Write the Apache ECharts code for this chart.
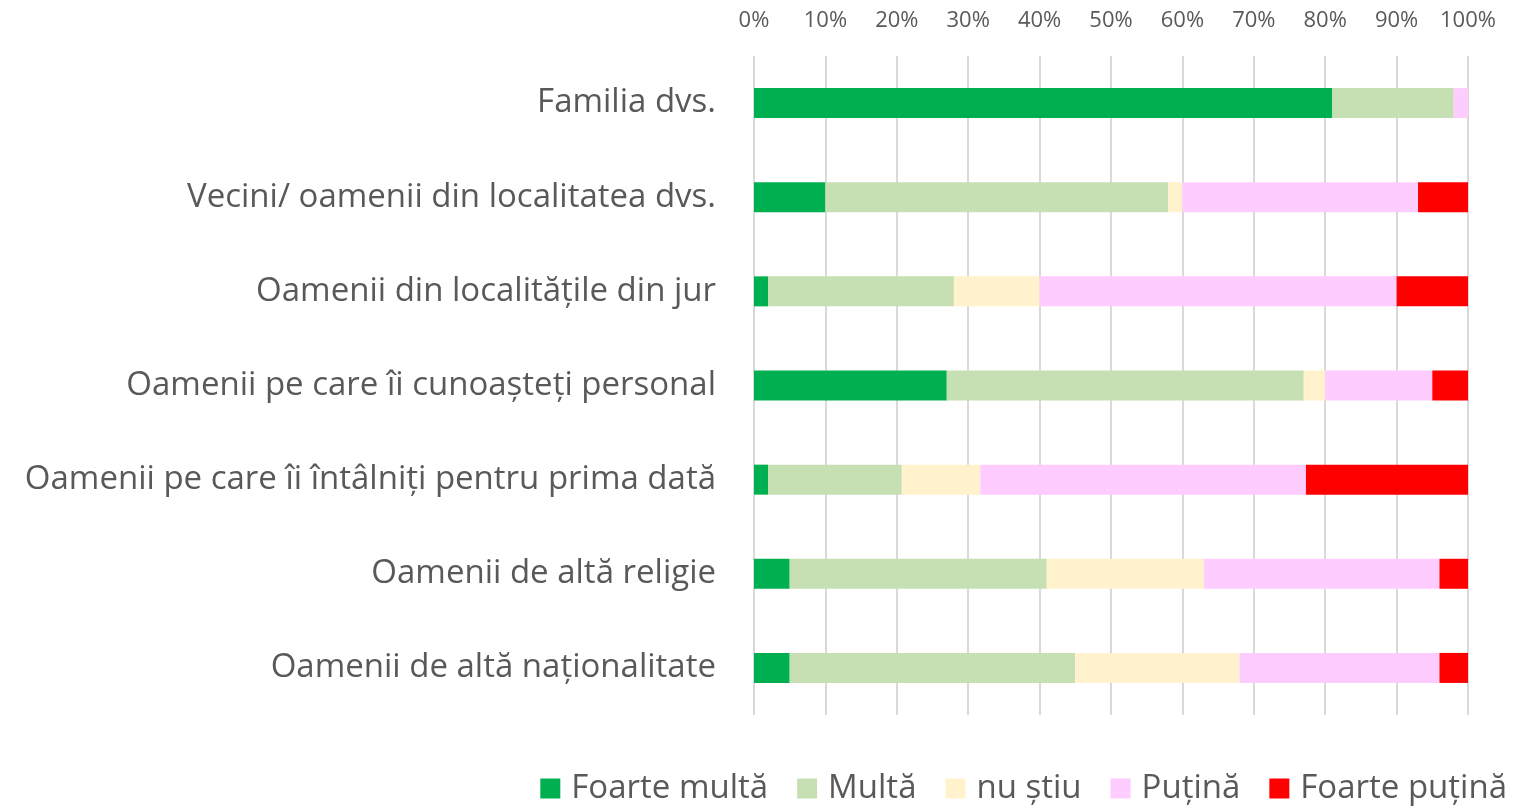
<!DOCTYPE html>
<html>
<head>
<meta charset="utf-8">
<script src="https://cdn.jsdelivr.net/npm/echarts@6/dist/echarts.min.js"></script>
<style>
  html, body { margin: 0; padding: 0; background: #fff; }
  #chart { width: 1514px; height: 808px; }
</style>
</head>
<body>
<div id="chart"></div>
<script>
// categorii (de sus in jos)
const categories = [
  'Familia dvs.',
  'Vecini/ oamenii din localitatea dvs.',
  'Oamenii din localitățile din jur',
  'Oamenii pe care îi cunoașteți personal',
  'Oamenii pe care îi întâlniți pentru prima dată',
  'Oamenii de altă religie',
  'Oamenii de altă naționalitate'
]
const seriesNames = ['Foarte multă', 'Multă', 'nu știu', 'Puțină', 'Foarte puțină']
const seriesColors = ['#00B050', '#C6E0B4', '#FFF2CC', '#FFCCFF', '#FF0000']

// procente
const foarteMulta  = [81, 10, 2, 27, 2, 5, 5]
const multa        = [17, 48, 26, 50, 18.7, 36, 40]
const nuStiu       = [0, 2, 12, 3, 11, 22, 23]
const putina       = [2, 33, 50, 15, 45.6, 33, 28]
const foartePutina = [0, 7, 10, 5, 22.7, 4, 4]
const seriesData = [foarteMulta, multa, nuStiu, putina, foartePutina]

const textColor = '#595959'
const fontFamily = '"Open Sans", sans-serif'

const chart = echarts.init(document.getElementById('chart'))

const option = {
  animation: false,
  textStyle: { fontFamily: fontFamily },
  grid: {
    left: 754,
    right: 46,
    top: 56,
    bottom: 93
  },
  legend: {
    bottom: -2,
    right: 2,
    itemWidth: 20,
    itemHeight: 20,
    itemGap: 29,
    icon: 'rect',
    textStyle: {
      fontSize: 33,
      color: textColor,
      fontFamily: fontFamily,
      padding: [0, 0, 0, 6]
    },
    data: seriesNames
  },
  xAxis: {
    type: 'value',
    position: 'top',
    min: 0,
    max: 100,
    interval: 10,
    axisLine: { show: false },
    axisTick: { show: false },
    axisLabel: {
      formatter: '{value}%',
      fontSize: 22,
      color: textColor,
      margin: 24
    },
    splitLine: { show: true, lineStyle: { color: '#D9D9D9', width: 2 } }
  },
  yAxis: {
    type: 'category',
    inverse: true,
    data: categories,
    axisLine: { show: false },
    axisTick: { show: false },
    axisLabel: {
      fontSize: 33,
      color: textColor,
      margin: 38
    }
  },
  series: seriesNames.map((name, i) => ({
    name: name,
    type: 'bar',
    stack: 'total',
    barWidth: 30,
    data: seriesData[i],
    itemStyle: { color: seriesColors[i] }
  }))
}

chart.setOption(option)
</script>
</body>
</html>
